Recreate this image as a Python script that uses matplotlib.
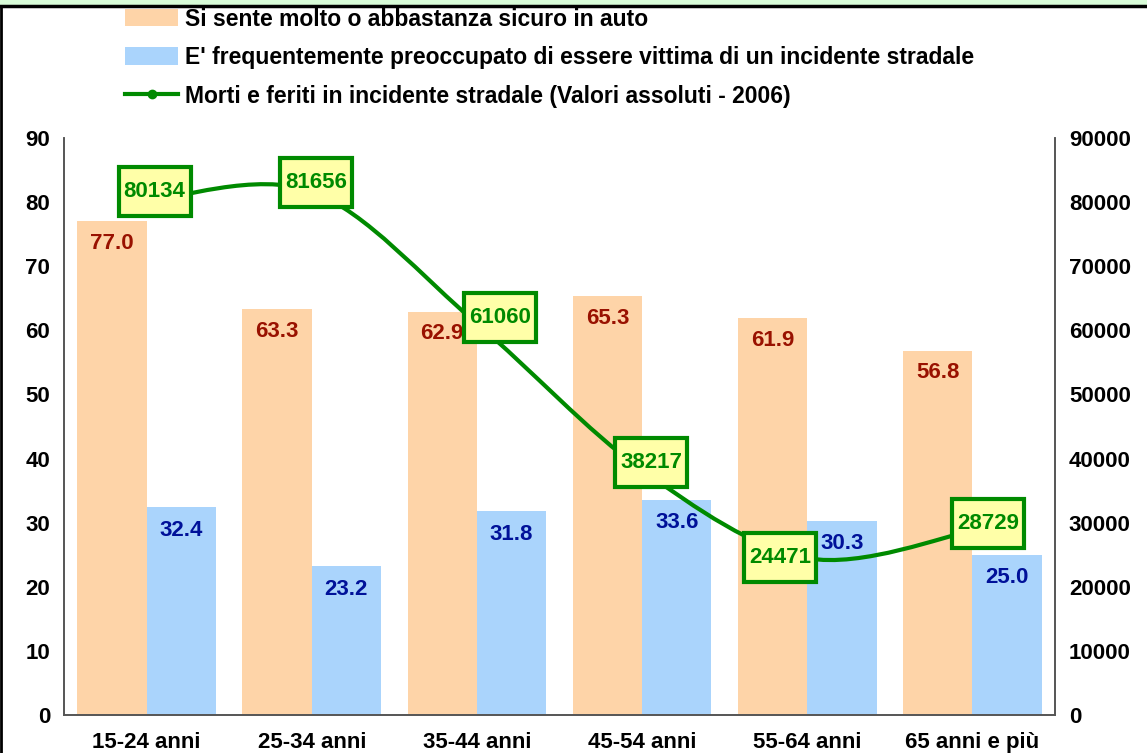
import numpy as np
import matplotlib.pyplot as plt
from matplotlib.patches import Rectangle, Patch, PathPatch
from matplotlib.path import Path
from matplotlib.lines import Line2D

# Data
categories = ["15-24 anni", "25-34 anni", "35-44 anni", "45-54 anni", "55-64 anni", "65 anni e più"]
sicuro_auto = [77.0, 63.3, 62.9, 65.3, 61.9, 56.8]
preoccupato = [32.4, 23.2, 31.8, 33.6, 30.3, 25.0]
morti_feriti = [80134, 81656, 61060, 38217, 24471, 28729]

legend_labels = [
    "Si sente molto o abbastanza sicuro in auto",
    "E' frequentemente preoccupato di essere vittima di un incidente stradale",
    "Morti e feriti in incidente stradale (Valori assoluti - 2006)",
]

# Colours
orange = "#fed4a8"
blue = "#aad4fc"
green = "#008a00"
box_fill = "#ffffa8"
dark_red = "#991100"
dark_blue = "#001199"

# label box offsets (pixels) to mimic the original placement
box_offsets = [(8, 10), (4, 9), (23, 6), (9, 7), (-27, 1), (16, 7)]


def label_box(x0, y0, width, height, mutation_size, padx=5.0, pady=14.0):
    # rectangle with separate horizontal / vertical padding (in pixels)
    x0, y0 = x0 - padx, y0 - pady
    x1, y1 = x0 + width + 2 * padx, y0 + height + 2 * pady
    return Path([(x0, y0), (x1, y0), (x1, y1), (x0, y1), (x0, y0)], closed=True)


def smooth_path(xs, ys):
    # Excel-style smoothed line: cubic Bezier through the points
    pts = np.column_stack([xs, ys]).astype(float)
    verts = [pts[0]]
    codes = [Path.MOVETO]
    n = len(pts)
    for i in range(n - 1):
        p0 = pts[i - 1] if i > 0 else pts[i]
        p1, p2 = pts[i], pts[i + 1]
        p3 = pts[i + 2] if i + 2 < n else pts[i + 1]
        c1 = p1 + (p2 - p0) / 6
        c2 = p2 - (p3 - p1) / 6
        verts += [c1, c2, p2]
        codes += [Path.CURVE4] * 3
    return Path(verts, codes)


plt.rcParams["font.family"] = ["Liberation Sans", "DejaVu Sans"]
plt.rcParams["font.weight"] = "bold"

fig = plt.figure(figsize=(11.47, 7.53), dpi=100)
ax = fig.add_axes([64 / 1147, 1 - 715 / 753, (1055 - 64) / 1147, (715 - 138) / 753])
ax2 = ax.twinx()

x = np.arange(len(categories))
width = 0.42

ax.bar(x - width / 2, sicuro_auto, width, color=orange, zorder=2)
ax.bar(x + width / 2, preoccupato, width, color=blue, zorder=2)

for xi, v in zip(x - width / 2, sicuro_auto):
    ax.annotate(f"{v:.1f}", (xi, v), xytext=(0, -22), textcoords="offset pixels",
                ha="center", va="center", fontsize=16, fontweight="bold", color=dark_red)
for xi, v in zip(x + width / 2, preoccupato):
    ax.annotate(f"{v:.1f}", (xi, v), xytext=(0, -23), textcoords="offset pixels",
                ha="center", va="center", fontsize=16, fontweight="bold", color=dark_blue)

ax.set_xlim(-0.5, len(categories) - 0.5)
ax.set_ylim(0, 90)
ax.set_yticks(range(0, 91, 10))
ax2.set_ylim(0, 90000)
ax2.set_yticks(range(0, 90001, 10000))

ax2.add_patch(PathPatch(smooth_path(x, morti_feriti), facecolor="none", edgecolor=green,
                        lw=3, zorder=3, capstyle="round"))
ax2.plot(x, morti_feriti, ls="none", color=green, marker="o", markersize=6, zorder=3)
for xi, v, (dx, dy) in zip(x, morti_feriti, box_offsets):
    ax2.annotate(f"{v}", (xi, v), xytext=(dx, dy), textcoords="offset pixels",
                 ha="center", va="center", fontsize=16, fontweight="bold", color=green,
                 bbox=dict(boxstyle=label_box, fc=box_fill, ec=green, lw=3), zorder=4)

ax.set_xticks(x)
ax.set_xticklabels(categories)
for a in (ax, ax2):
    a.tick_params(length=0, labelsize=16)
    for s in a.spines.values():
        s.set_color("#555555")
        s.set_linewidth(1.2)
    a.spines["top"].set_visible(False)
ax.tick_params(axis="x", pad=12)
ax.tick_params(axis="y", pad=10)
ax2.tick_params(axis="y", pad=10)
for lbl in ax.get_xticklabels() + ax.get_yticklabels() + ax2.get_yticklabels():
    lbl.set_fontweight("bold")

# Legend on top
handles = [
    Patch(facecolor=orange, edgecolor="none"),
    Patch(facecolor=blue, edgecolor="none"),
    Line2D([0], [0], color=green, lw=3, marker="o", markersize=6),
]
fig.legend(handles, legend_labels, loc="upper left", bbox_to_anchor=(104 / 1147, 1 + 13 / 753),
           frameon=False, handlelength=2.35, handleheight=0.8,
           labelspacing=0.68, handletextpad=0.3, prop={"weight": "bold", "size": 16.5})

# Top green strip and frame lines
fig.patches.append(Rectangle((0, 1 - 5 / 753), 1, 5 / 753, transform=fig.transFigure,
                             facecolor="#d8fcd8", edgecolor="none", zorder=5))
fig.lines.append(Line2D([0, 1], [1 - 6 / 753, 1 - 6 / 753], transform=fig.transFigure,
                        color="black", lw=2.5, zorder=6))
fig.lines.append(Line2D([1 / 1147, 1 / 1147], [0, 1 - 6 / 753], transform=fig.transFigure,
                        color="black", lw=2))

fig.savefig("out.png", dpi=100)
